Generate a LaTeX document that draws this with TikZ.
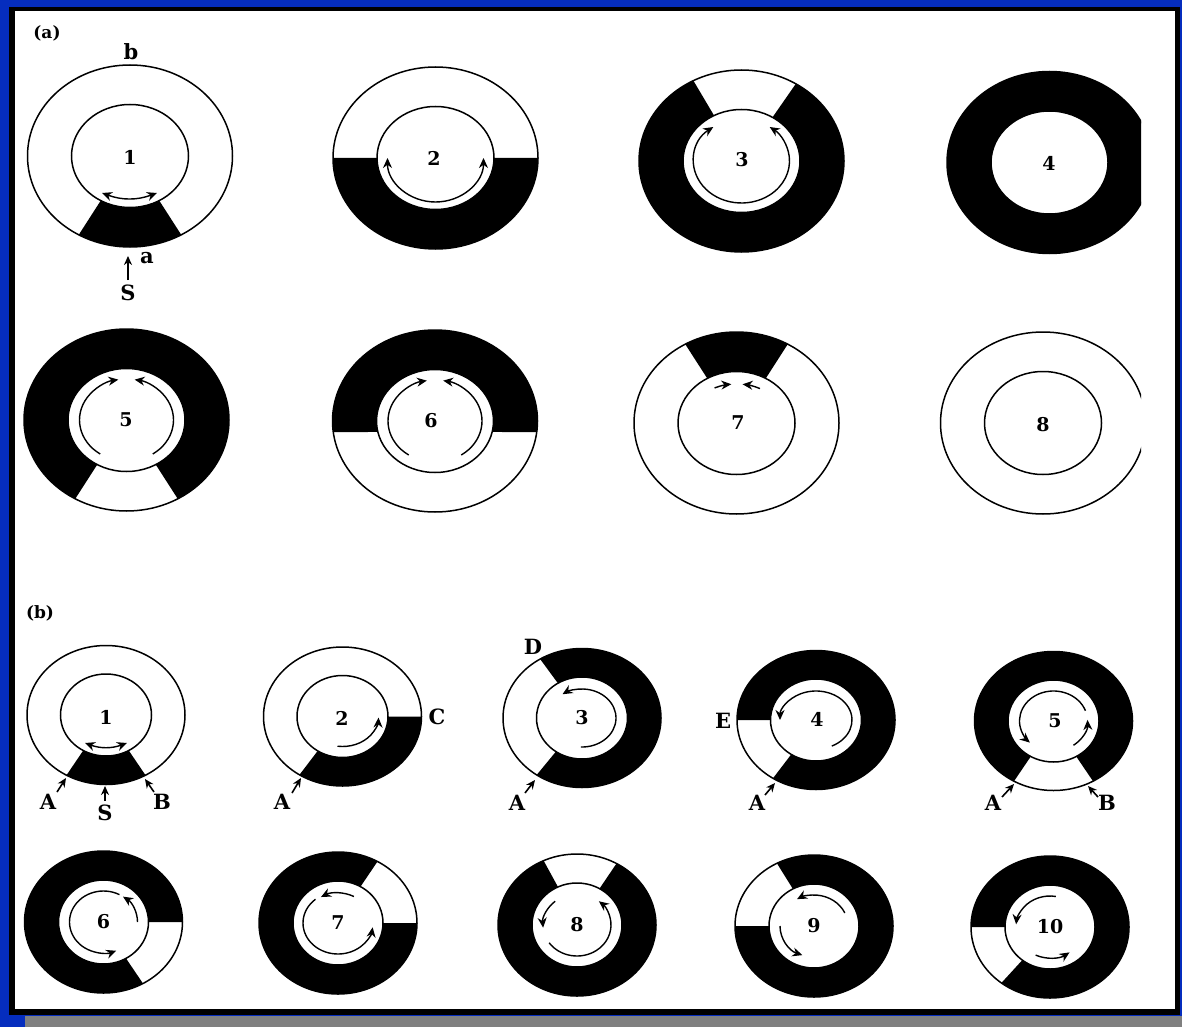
\documentclass[tikz,border=0pt]{standalone}
\usepackage{fontspec}
\setmainfont{DejaVu Serif}
\usetikzlibrary{arrows.meta,calc}
\definecolor{bgblue}{RGB}{5,45,190}
\definecolor{bargray}{RGB}{128,128,128}
\tikzset{
  ringline/.style={line width=0.75pt},
  flow/.style={line width=0.7pt,-{Stealth[length=5pt,width=4.5pt]}},
  flowtwo/.style={line width=0.7pt,{Stealth[length=5pt,width=4.5pt]}-{Stealth[length=5pt,width=4.5pt]}},
  pointer/.style={line width=0.8pt,-{Stealth[length=4.5pt,width=4pt]}},
  lbl/.style={font=\fontsize{10.5}{12}\selectfont\bfseries,inner sep=0pt},
  num/.style={font=\fontsize{9.5}{11}\selectfont\bfseries,inner sep=0pt},
  panel/.style={font=\fontsize{8.5}{10}\selectfont\bfseries,inner sep=0pt}
}
\newcommand{\ringdims}[4]{\def\RXO{#1}\def\RYO{#2}\def\RXI{#3}\def\RYI{#4}}
\newcommand{\ringlines}[1]{%
  \draw[ringline] (#1) ellipse [x radius=\RXO, y radius=\RYO];
  \draw[ringline] (#1) ellipse [x radius=\RXI, y radius=\RYI];}
\newcommand{\blackpart}[5]{%
  \fill[black] ([shift={({\RXO*cos(#2)},{\RYO*sin(#2)})}]#1)
    arc[start angle=#2,end angle=#3,x radius=\RXO,y radius=\RYO]
    -- ([shift={({\RXI*cos(#5)},{\RYI*sin(#5)})}]#1)
    arc[start angle=#5,end angle=#4,x radius=\RXI,y radius=\RYI] -- cycle;}
\newcommand{\flowarc}[6]{%
  \draw[#1] ([shift={({#5*cos(#3)},{#6*sin(#3)})}]#2)
    arc[start angle=#3,end angle=#4,x radius=#5,y radius=#6];}
\begin{document}
\begin{tikzpicture}[x=0.5pt,y=0.5pt]
\useasboundingbox (0,0) rectangle (1182,-1027);
\fill[bgblue] (0,0) rectangle (1182,-1027);
\fill[black] (9,-7) rectangle (1180,-1015);
\fill[white] (15,-11) rectangle (1175,-1009);
\fill[bargray] (25,-1016) rectangle (1182,-1027);

% ---------------- panel (a) ----------------
\ringdims{102.5}{91}{58.5}{51.5}
\coordinate (a1) at (130,-156);
\coordinate (a2) at (435.5,-158);
\coordinate (a3) at (741.5,-161);
\coordinate (a4) at (1049.5,-162.5);
\coordinate (a5) at (126.5,-420);
\coordinate (a6) at (435,-421);
\coordinate (a7) at (736.5,-423);
\coordinate (a8) at (1043,-423);

\blackpart{a1}{240}{300}{240}{300}
\blackpart{a2}{180}{360}{180}{360}
\blackpart{a3}{118}{418}{118}{418}
\blackpart{a5}{300}{600}{300}{600}
\blackpart{a6}{-7}{187}{-12.3}{192.3}
\blackpart{a7}{60}{120}{60}{120}
\ringlines{a1}\ringlines{a2}\ringlines{a3}\ringlines{a5}\ringlines{a6}\ringlines{a7}
\begin{scope}
  \clip (0,0) rectangle (1141,-1027);
  \blackpart{a4}{0}{360}{0}{360}
  \ringlines{a4}\ringlines{a8}
\end{scope}

\coordinate (a1l) at (102,-193);
\coordinate (a1r) at (157,-193);
\draw[flowtwo] (a1l) to[bend right=20] (a1r);
\flowarc{flowtwo}{a2}{180}{360}{48}{44}
\flowarc{flowtwo}{a3}{126}{414}{48}{42}
\flowarc{flow}{a5}{236}{100}{47}{41}
\flowarc{flow}{a5}{304}{440}{47}{41}
\flowarc{flow}{a6}{236}{100}{47}{41}
\flowarc{flow}{a6}{304}{440}{47}{41}
\flowarc{flow}{a7}{116}{96}{50}{39}
\flowarc{flow}{a7}{62}{83}{50}{39}

\node[num] (na1) at (130,-157) {1};
\node[num] (na2) at (434,-158) {2};
\node[num] (na3) at (742,-160) {3};
\node[num] (na4) at (1049,-163) {4};
\node[num] (na5) at (126,-420) {5};
\node[num] (na6) at (431,-421) {6};
\node[num] (na7) at (738,-423) {7};
\node[num] (na8) at (1043,-425) {8};

\node[panel] (pa) at (47,-33) {(a)};
\node[lbl] (lb) at (131,-52) {b};
\node[lbl] (la) at (147,-258) {a};
\node[lbl] (lS) at (128,-293) {S};
\coordinate (lSt) at (128,-280);
\coordinate (lSh) at (128,-256);
\draw[pointer] (lSt) -- (lSh);

% ---------------- panel (b) ----------------
\node[panel] (pb) at (40,-613) {(b)};
\ringdims{79}{69.5}{45.5}{41}
\coordinate (b1) at (106,-715);
\coordinate (b2) at (342.5,-716.5);
\coordinate (b3) at (582,-718);
\coordinate (b4) at (816,-720);
\coordinate (b5) at (1053.5,-721);

\blackpart{b1}{240}{300}{240}{300}
\blackpart{b2}{237}{360}{237}{360}
\blackpart{b3}{-125}{122}{-125}{122}
\blackpart{b4}{237}{540}{237}{540}
\blackpart{b5}{300}{600}{300}{600}
\ringlines{b1}\ringlines{b2}\ringlines{b3}\ringlines{b4}\ringlines{b5}

\ringdims{79}{71}{45}{42}
\coordinate (b6) at (103.5,-922);
\coordinate (b7) at (338,-923);
\coordinate (b8) at (577,-925);
\coordinate (b9) at (814,-926);
\coordinate (b10) at (1050,-927);
\blackpart{b6}{0}{300}{0}{300}
\blackpart{b7}{60}{360}{60}{360}
\blackpart{b8}{115}{420}{115}{420}
\blackpart{b9}{180}{478}{180}{478}
\blackpart{b10}{232}{540}{232}{540}
\ringlines{b6}\ringlines{b7}\ringlines{b8}\ringlines{b9}\ringlines{b10}

\coordinate (b1l) at (85,-743);
\coordinate (b1r) at (127,-743);
\draw[flowtwo] (b1l) to[bend right=20] (b1r);
\flowarc{flow}{b2}{262}{358}{36}{30}
\flowarc{flow}{b3}{268}{485}{34}{29}
\flowarc{flow}{b4}{-64}{180}{36}{29}
\flowarc{flow}{b5}{20}{226}{34}{30}
\flowarc{flow}{b5}{-54}{2}{34}{30}
\flowarc{flow}{b6}{0}{55}{34}{31}
\flowarc{flow}{b6}{62}{292}{34}{31}
\flowarc{flow}{b7}{62}{120}{34}{30}
\flowarc{flow}{b7}{130}{352}{35}{31}
\flowarc{flow}{b8}{130}{185}{34}{31}
\flowarc{flow}{b8}{215}{410}{34}{31}
\flowarc{flow}{b9}{25}{120}{34}{31}
\flowarc{flow}{b9}{180}{250}{34}{31}
\flowarc{flow}{b10}{80}{175}{34}{31}
\flowarc{flow}{b10}{245}{305}{34}{31}

\node[num] (nb1) at (106,-717) {1};
\node[num] (nb2) at (342,-718) {2};
\node[num] (nb3) at (582,-718) {3};
\node[num] (nb4) at (817,-719) {4};
\node[num] (nb5) at (1055,-721) {5};
\node[num] (nb6) at (103.5,-922) {6};
\node[num] (nb7) at (338,-923) {7};
\node[num] (nb8) at (577,-925) {8};
\node[num] (nb9) at (814,-926) {9};
\node[num] (nb10) at (1050,-927) {10};

% pointer labels of (b)
\node[lbl] (b1A) at (48,-802) {A};
\node[lbl] (b1S) at (105,-813) {S};
\node[lbl] (b1B) at (162,-802) {B};
\coordinate (b1At) at (57,-792);  \coordinate (b1Ah) at (66,-778);
\coordinate (b1St) at (105,-801); \coordinate (b1Sh) at (105,-786);
\coordinate (b1Bt) at (154,-792); \coordinate (b1Bh) at (145,-779);
\draw[pointer] (b1At) -- (b1Ah);
\draw[pointer] (b1St) -- (b1Sh);
\draw[pointer] (b1Bt) -- (b1Bh);

\node[lbl] (b2A) at (282,-802) {A};
\node[lbl] (b2C) at (437,-717) {C};
\coordinate (b2At) at (292,-793); \coordinate (b2Ah) at (301,-778);
\draw[pointer] (b2At) -- (b2Ah);

\node[lbl] (b3D) at (533,-647) {D};
\node[lbl] (b3A) at (517,-803) {A};
\coordinate (b3At) at (525,-793); \coordinate (b3Ah) at (535,-780);
\draw[pointer] (b3At) -- (b3Ah);

\node[lbl] (b4E) at (723,-721) {E};
\node[lbl] (b4A) at (757,-803) {A};
\coordinate (b4At) at (765,-795); \coordinate (b4Ah) at (775,-783);
\draw[pointer] (b4At) -- (b4Ah);

\node[lbl] (b5A) at (993,-803) {A};
\node[lbl] (b5B) at (1107,-803) {B};
\coordinate (b5At) at (1002,-797); \coordinate (b5Ah) at (1014,-784);
\coordinate (b5Bt) at (1098,-797); \coordinate (b5Bh) at (1088,-786);
\draw[pointer] (b5At) -- (b5Ah);
\draw[pointer] (b5Bt) -- (b5Bh);
\end{tikzpicture}
\end{document}
